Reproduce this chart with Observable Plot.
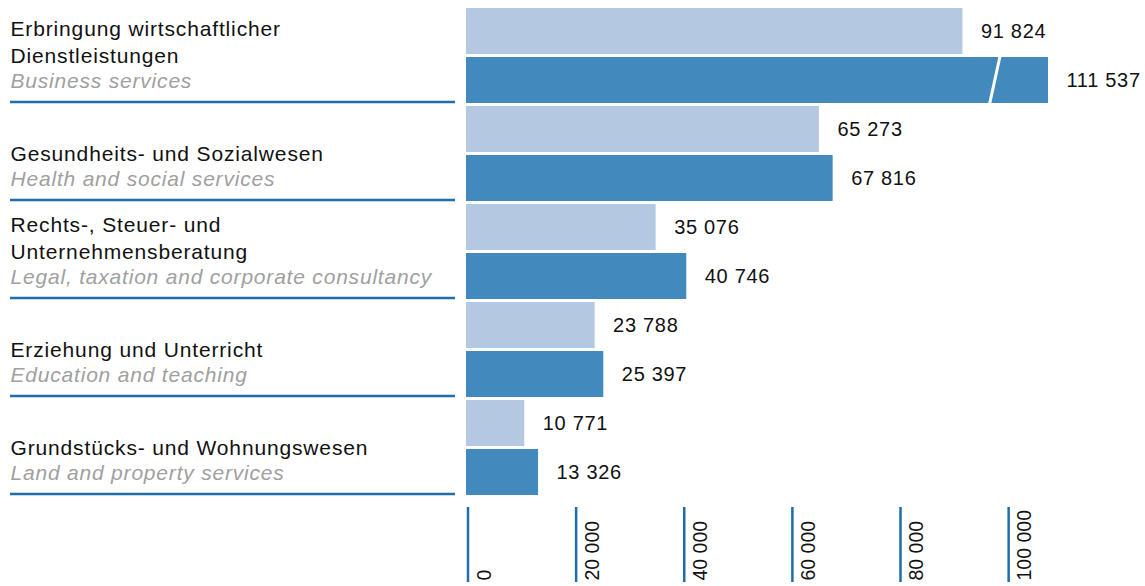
<!DOCTYPE html>
<html><head><meta charset="utf-8">
<script src="https://cdn.jsdelivr.net/npm/d3@7"></script>
<script src="https://cdn.jsdelivr.net/npm/@observablehq/plot@0.6"></script>
<style>
html,body{margin:0;padding:0;background:#fff;}
#chart svg{display:block;}
g[aria-description="german"] text{letter-spacing:0.85px;}
g[aria-description="english"] text{letter-spacing:0.8px;}
g[aria-description="values"] text{letter-spacing:0.7px;}
</style></head>
<body><div id="chart"></div>
<script>
// Categories (German / English)
const categoriesDe = [
  "Erbringung wirtschaftlicher\nDienstleistungen",
  "Gesundheits- und Sozialwesen",
  "Rechts-, Steuer- und\nUnternehmensberatung",
  "Erziehung und Unterricht",
  "Grundstücks- und Wohnungswesen"
];
const categoriesEn = [
  "Business services",
  "Health and social services",
  "Legal, taxation and corporate consultancy",
  "Education and teaching",
  "Land and property services"
];
// Series values (earlier = light, later = dark)
const series = ["earlier", "later"];
const valuesEarlier = [91824, 65273, 35076, 23788, 10771];
const valuesLater = [111537, 67816, 40746, 25397, 13326];
// Axis
const xTicks = [0, 20000, 40000, 60000, 80000, 100000];
const axisMax = 107650;      // axis is cut here (broken bar)
const breakValue = 97700;    // position of the break mark on the cut bar

const fmt = d3.formatLocale({decimal: ",", thousands: " ", grouping: [3], currency: ["", ""]}).format(",d");

const rows = [];
categoriesDe.forEach((c, i) => {
  rows.push({key: i + "a", series: series[0], value: valuesEarlier[i]});
  rows.push({key: i + "b", series: series[1], value: valuesLater[i]});
});
const groups = categoriesDe.map((de, i) => ({key: i + "b", de, en: categoriesEn[i]}));
const breaks = rows.filter(d => d.value > axisMax).map(d => ({key: d.key, value: breakValue}));

const light = "#b4c8e2", dark = "#4289be", lineBlue = "#1f6dab";

const chart = Plot.plot({
  width: 1145,
  height: 586,
  marginLeft: 466,
  marginRight: 97,
  marginTop: 8,
  marginBottom: 91,
  style: {fontFamily: "'Liberation Sans', Arial, sans-serif", background: "#fff", color: "#000"},
  x: {domain: [0, axisMax], axis: null},
  y: {domain: rows.map(d => d.key), paddingInner: 3 / 49, paddingOuter: 0, axis: null},
  color: {domain: series, range: [light, dark]},
  marks: [
    Plot.barX(rows, {y: "key", x: d => Math.min(d.value, axisMax), fill: "series"}),
    Plot.vector(breaks, {
      x: "value", y: "key", length: 50, rotate: 12.3, anchor: "middle",
      stroke: "#fff", strokeWidth: 3,
      shape: {draw(ctx, l) { ctx.moveTo(0, 0); ctx.lineTo(0, -l); }}
    }),
    Plot.text(rows, {
      y: "key", x: d => Math.min(d.value, axisMax), text: d => fmt(d.value),
      textAnchor: "start", dx: 18, fontSize: 20, fill: "#111", ariaDescription: "values"
    }),
    Plot.text(groups, {
      y: "key", text: "de", frameAnchor: "left", dx: -456, dy: -18,
      textAnchor: "start", lineAnchor: "bottom", lineHeight: 1.27,
      fontSize: 21, fill: "#111", ariaDescription: "german"
    }),
    Plot.text(groups, {
      y: "key", text: "en", frameAnchor: "left", dx: -456, dy: 7,
      textAnchor: "start", lineAnchor: "bottom",
      fontSize: 21, fontStyle: "italic", fill: "#a0a0a0", ariaDescription: "english"
    }),
    Plot.ruleY(groups, {
      y: "key", dy: 21.5, dx: -456, insetRight: 137,
      stroke: lineBlue, strokeWidth: 2.5
    }),
    Plot.ruleX(xTicks, {
      x: d => d, insetTop: 412, dy: 87, dx: 1.5,
      stroke: lineBlue, strokeWidth: 2.5
    }),
    Plot.text(xTicks, {
      x: d => d, text: d => fmt(d), frameAnchor: "bottom", rotate: -90,
      textAnchor: "start", lineAnchor: "bottom", dx: 24, dy: 85,
      fontSize: 19.5, fill: "#111", ariaDescription: "ticks"
    })
  ]
});
document.getElementById("chart").appendChild(chart);
</script>
</body></html>
